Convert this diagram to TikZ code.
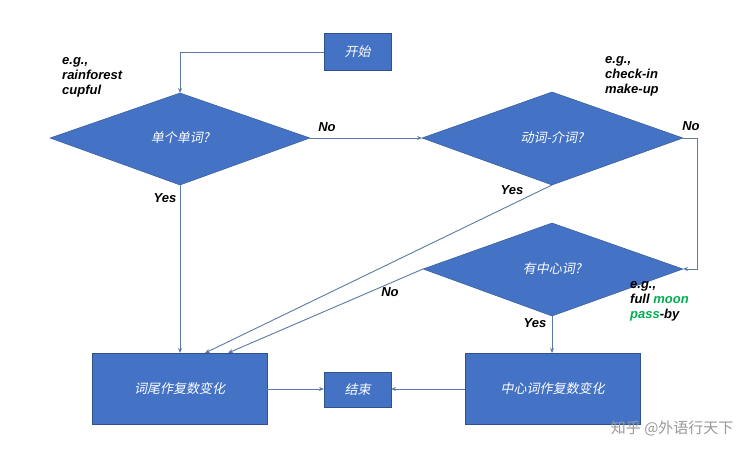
\documentclass[tikz,border=0pt]{standalone}
\usepackage{fontspec}
\setmainfont{Liberation Sans}
\newfontfamily\cjk[FakeSlant=0.2]{Noto Sans CJK SC}
\newfontfamily\cjkup{Noto Sans CJK SC}
\usetikzlibrary{shapes.geometric,arrows.meta}
\definecolor{fillb}{HTML}{4472C4}
\definecolor{edgeb}{HTML}{2F528F}
\definecolor{linec}{HTML}{5B7BA6}
\definecolor{grn}{HTML}{00B050}
\begin{document}
\begin{tikzpicture}[x=1pt,y=-1pt,
 box/.style={draw=edgeb,fill=fillb,text=white,font=\cjk\fontsize{13}{15}\selectfont},
 arr/.style={draw=linec,line width=0.9pt,-{Stealth[length=5pt,width=4pt]}},
 lab/.style={font=\bfseries\itshape\fontsize{13}{15}\selectfont,align=left,inner sep=0pt}]
\useasboundingbox[fill=white] (0,0) rectangle (755,457);
\path[box] (324,33) rectangle (391,70) node[pos=.5] (start) {开始};
\coordinate (startW) at (324,52);
\path[box] (50,138)--(180,93)--(310,138)--(180,185)--cycle;
\node[text=white,font=\cjk\fontsize{13}{15}\selectfont] (d1) at (180,138) {单个单词?};
\coordinate (d1N) at (180,93); \coordinate (d1E) at (310,138); \coordinate (d1S) at (180,185);
\path[box] (422,138)--(552,92)--(683,138)--(552,185)--cycle;
\node[text=white,font=\cjk\fontsize{13}{15}\selectfont] (d2) at (552,138) {动词-介词?};
\coordinate (d2W) at (422,138); \coordinate (d2E) at (683,138); \coordinate (d2S) at (552,185);
\path[box] (423,269)--(552,223)--(683,269)--(552,316)--cycle;
\node[text=white,font=\cjk\fontsize{13}{15}\selectfont] (d3) at (552,269) {有中心词?};
\coordinate (d3W) at (423,269); \coordinate (d3E) at (683,269); \coordinate (d3S) at (552,316);
\path[box] (92,353) rectangle (267,424) node[pos=.5] (b1) {词尾作复数变化};
\path[box] (324,372) rectangle (391,407) node[pos=.5] (end) {结束};
\path[box] (465,353) rectangle (640,424) node[pos=.5] (b3) {中心词作复数变化};
\coordinate (b1N) at (180,353); \coordinate (b1a) at (205,353); \coordinate (b1b) at (228,353);
\coordinate (b1E) at (267,389); \coordinate (endW) at (324,389); \coordinate (endE) at (391,389);
\coordinate (b3W) at (465,389); \coordinate (b3N) at (552,353);
\draw[arr] (startW) -| (d1N);
\draw[arr] (d1E) -- (d2W);
\draw[arr] (d1S) -- (b1N);
\draw[arr] (d2E) -- (697,138) -- (697,269) -- (d3E);
\draw[arr] (d2S) -- (b1a);
\draw[arr] (d3W) -- (b1b);
\draw[arr] (d3S) -- (b3N);
\draw[arr] (b1E) -- (endW);
\draw[arr] (b3W) -- (endE);
\node[lab,anchor=north west] (t1) at (62,57) {e.g.,\\rainforest\\cupful};
\node[lab] (n1) at (327,127) {No};
\node[lab] (y1) at (165,198) {Yes};
\node[lab,anchor=north west] (t2) at (605,56) {e.g.,\\check-in\\make-up};
\node[lab] (n2) at (691,126) {No};
\node[lab] (y2) at (512,190) {Yes};
\node[lab] (n3) at (390,292) {No};
\node[lab] (y3) at (535,323) {Yes};
\node[lab,anchor=north west] (t3) at (630,281) {e.g.,\\full \textcolor{grn}{moon}\\\textcolor{grn}{pass}-by};
\node[font=\cjkup\fontsize{15}{17}\selectfont,text=gray!80,anchor=east] (wm) at (737,428) {知乎 @外语行天下};
\end{tikzpicture}
\end{document}
